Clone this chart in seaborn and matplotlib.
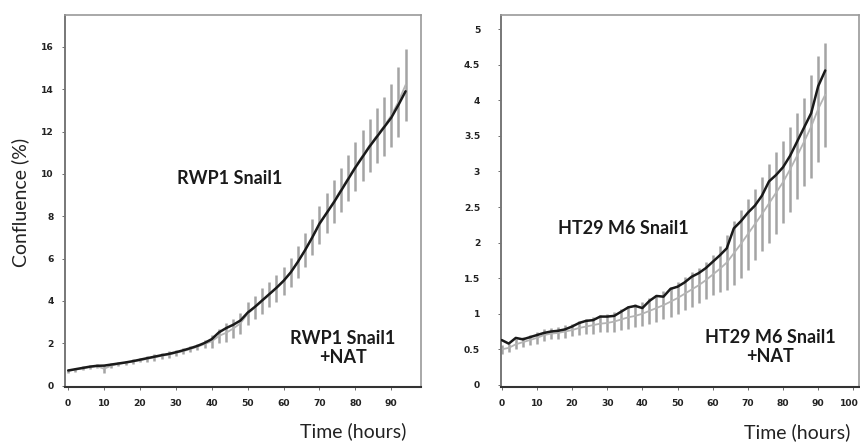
import numpy as np
import pandas as pd
import matplotlib
matplotlib.use("Agg")
import matplotlib.pyplot as plt
import matplotlib.transforms as mtransforms
import seaborn as sns

# ---------------- data ----------------
time_left = list(range(0, 96, 2))  # 0..94
rwp1_snail1 = [0.72, 0.78, 0.84, 0.90, 0.94, 0.95, 1.00, 1.05, 1.10, 1.16,
               1.23, 1.30, 1.37, 1.44, 1.50, 1.58, 1.67, 1.77, 1.88, 2.02,
               2.20, 2.52, 2.72, 2.88, 3.08, 3.45, 3.72, 4.02, 4.32, 4.62,
               4.95, 5.35, 5.85, 6.40, 7.00, 7.65, 8.15, 8.65, 9.20, 9.75,
               10.30, 10.80, 11.30, 11.75, 12.20, 12.65, 13.25, 13.90]
rwp1_nat = [0.70, 0.76, 0.82, 0.88, 0.92, 0.80, 0.95, 1.03, 1.08, 1.14,
            1.20, 1.27, 1.34, 1.41, 1.47, 1.55, 1.63, 1.73, 1.84, 1.97,
            2.10, 2.35, 2.50, 2.70, 2.95, 3.40, 3.70, 4.00, 4.30, 4.60,
            4.95, 5.35, 5.85, 6.40, 7.00, 7.60, 8.15, 8.70, 9.25, 9.80,
            10.35, 10.85, 11.35, 11.80, 12.25, 12.75, 13.40, 14.20]
rwp1_nat_err = [0.10, 0.10, 0.10, 0.10, 0.10, 0.18, 0.10, 0.10, 0.10, 0.10,
                0.10, 0.15, 0.15, 0.15, 0.15, 0.15, 0.15, 0.15, 0.15, 0.20,
                0.30, 0.35, 0.45, 0.45, 0.50, 0.55, 0.55, 0.60, 0.60, 0.65,
                0.65, 0.70, 0.75, 0.80, 0.85, 0.90, 0.95, 1.00, 1.05, 1.10,
                1.15, 1.20, 1.25, 1.30, 1.40, 1.50, 1.65, 1.70]

time_right = list(range(0, 94, 2))  # 0..92
ht29_snail1 = [0.63, 0.58, 0.66, 0.64, 0.67, 0.70, 0.73, 0.75, 0.76, 0.78,
               0.82, 0.87, 0.90, 0.91, 0.96, 0.96, 0.97, 1.03, 1.09, 1.11,
               1.08, 1.18, 1.25, 1.24, 1.35, 1.38, 1.44, 1.52, 1.57, 1.64,
               1.73, 1.82, 1.92, 2.20, 2.30, 2.42, 2.52, 2.66, 2.86, 2.95,
               3.06, 3.22, 3.42, 3.62, 3.82, 4.20, 4.42]
ht29_nat = [0.50, 0.52, 0.57, 0.60, 0.63, 0.66, 0.70, 0.72, 0.73, 0.75,
            0.77, 0.80, 0.82, 0.84, 0.86, 0.87, 0.89, 0.92, 0.95, 0.97,
            1.00, 1.04, 1.08, 1.12, 1.17, 1.22, 1.28, 1.34, 1.40, 1.47,
            1.55, 1.63, 1.72, 1.85, 1.98, 2.12, 2.26, 2.40, 2.55, 2.70,
            2.85, 3.03, 3.22, 3.42, 3.63, 3.88, 4.08]
ht29_nat_err = [0.06, 0.06, 0.07, 0.07, 0.07, 0.08, 0.08, 0.08, 0.08, 0.09,
                0.09, 0.10, 0.11, 0.12, 0.12, 0.13, 0.14, 0.15, 0.16, 0.16,
                0.17, 0.18, 0.19, 0.20, 0.21, 0.22, 0.23, 0.24, 0.25, 0.26,
                0.28, 0.32, 0.38, 0.45, 0.48, 0.50, 0.50, 0.52, 0.55, 0.58,
                0.58, 0.60, 0.60, 0.62, 0.72, 0.74, 0.73]

left_xticks = [0, 10, 20, 30, 40, 50, 60, 70, 80, 90]
left_yticks = [0, 2, 4, 6, 8, 10, 12, 14, 16]
right_xticks = [0, 10, 20, 30, 40, 50, 60, 70, 80, 90, 100]
right_yticks = [0, 0.5, 1, 1.5, 2, 2.5, 3, 3.5, 4, 4.5, 5]
right_ylabels = ["0", "0.5", "1", "1.5", "2", "2.5", "3", "3.5", "4", "4.5", "5"]

# ---------------- style ----------------
sns.set_theme(style="white")
plt.rcParams['font.family'] = ['Lato', 'DejaVu Sans']

fig = plt.figure(figsize=(8.6, 4.42), dpi=100)
axL = fig.add_axes([65 / 860, 1 - 387 / 442, 356 / 860, 372 / 442])
axR = fig.add_axes([501 / 860, 1 - 387 / 442, 358 / 860, 372 / 442])

GRAY_BAR = "#a4a4a4"
GRAY_LINE = "#b4b4b4"
BLACK = "#1a1a1a"


def draw(ax, t, black, gray, err):
    ax.errorbar(t, gray, yerr=err, fmt='none', ecolor=GRAY_BAR,
                elinewidth=1.8, capsize=0, zorder=1)
    sns.lineplot(x=t, y=gray, ax=ax, color=GRAY_LINE, linewidth=1.3,
                 zorder=2)
    sns.lineplot(x=t, y=black, ax=ax, color=BLACK, linewidth=1.8, zorder=3)


draw(axL, time_left, rwp1_snail1, rwp1_nat, rwp1_nat_err)
draw(axR, time_right, ht29_snail1, ht29_nat, ht29_nat_err)

axL.set_xlim(-0.9, 98.3)
axL.set_ylim(-0.06, 17.5)
axR.set_xlim(-0.2, 101.6)
axR.set_ylim(-0.03, 5.2)

tick_font = dict(family=['DejaVu Sans'], weight='bold',
                 size=6.6, color='#222222')
for ax, xt, yt, yl in [(axL, left_xticks, left_yticks, [str(v) for v in left_yticks]),
                       (axR, right_xticks, right_yticks, right_ylabels)]:
    ax.set_xticks(xt)
    ax.set_xticklabels([str(v) for v in xt], fontdict=tick_font)
    ax.set_yticks(yt)
    ax.set_yticklabels(yl, fontdict=tick_font)
    ax.tick_params(axis='both', which='both', length=2, width=0.6,
                   direction='out', color='#555555',
                   bottom=True, left=True)
    ax.set_xlabel("")
    ax.set_ylabel("")
    for side in ['top', 'right']:
        ax.spines[side].set_color('#9a9a9a')
        ax.spines[side].set_linewidth(1.2)
    ax.spines['bottom'].set_color('#333333')
    ax.spines['bottom'].set_linewidth(1.5)
    ax.spines['left'].set_color('#777777')
    ax.spines['left'].set_linewidth(1.4)

axL.tick_params(axis='x', pad=7)
axR.tick_params(axis='x', pad=7)
axL.tick_params(axis='y', pad=6)
axR.tick_params(axis='y', pad=13)

# nudge the last right-panel x label ("100") inward so it stays in the figure
last_lbl = axR.get_xticklabels()[-1]
last_lbl.set_transform(last_lbl.get_transform() +
                       mtransforms.ScaledTranslation(-4 / 100, 0, fig.dpi_scale_trans))

ann = dict(fontsize=13, color='#1a1a1a', ha='center', va='center',
           family=['Lato', 'DejaVu Sans'], fontweight='bold')
fig.text(230 / 860, 1 - 178 / 442, "RWP1 Snail1", **ann)
fig.text(343 / 860, 1 - 348 / 442, "RWP1 Snail1\n+NAT", linespacing=1.2, **ann)
fig.text(623 / 860, 1 - 228 / 442, "HT29 M6 Snail1", **ann)
fig.text(770 / 860, 1 - 347 / 442, "HT29 M6 Snail1\n+NAT", linespacing=1.2, **ann)

lab = dict(fontsize=14, color='#222222', family=['Lato', 'DejaVu Sans'])
fig.text(20 / 860, 1 - 202 / 442, "Confluence (%)", rotation=90,
         ha='center', va='center', **lab)
fig.text(353 / 860, 1 - 431 / 442, "Time (hours)", ha='center', va='center', **lab)
fig.text(797 / 860, 1 - 432 / 442, "Time (hours)", ha='center', va='center', **lab)

fig.savefig("out.png", dpi=100)
